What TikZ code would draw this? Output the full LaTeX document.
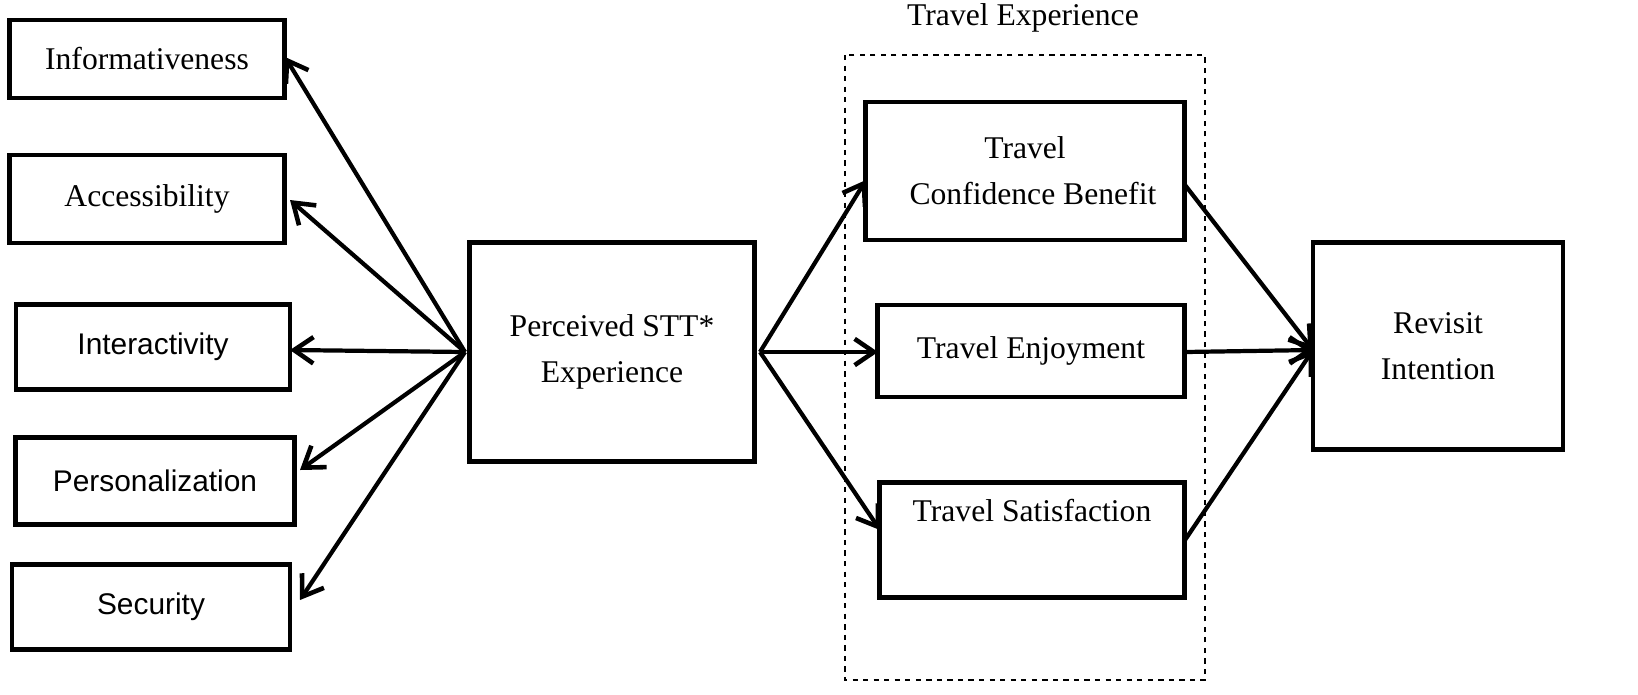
\documentclass[tikz,border=0pt]{standalone}
\usepackage{fontspec}
\setmainfont{Liberation Serif}
\newfontfamily\sansf{Liberation Sans}
\usetikzlibrary{arrows.meta}
\begin{document}
\begin{tikzpicture}[x=0.02cm,y=-0.02cm,
  box/.style={draw,line width=2.4pt,inner sep=0pt,align=center,font=\fontsize{18}{26}\selectfont},
  sbox/.style={box,font=\sansf\fontsize{17}{24}\selectfont},
  arr/.style={line width=2.4pt,-{Straight Barb[length=11pt,width=15pt,line width=2.6pt]}}]
\useasboundingbox (0,0) rectangle (1638,694);
\node[box,minimum width=5.5cm,minimum height=1.56cm] (inf) at (147,59) {Informativeness};
\node[box,minimum width=5.5cm,minimum height=1.76cm] (acc) at (147,199) {Accessibility};
\node[sbox,minimum width=5.48cm,minimum height=1.7cm] (int) at (153,347) {Interactivity};
\node[sbox,minimum width=5.58cm,minimum height=1.74cm] (per) at (155,481) {Personalization};
\node[sbox,minimum width=5.56cm,minimum height=1.7cm] (sec) at (151,607) {Security};
\node[box,minimum width=5.7cm,minimum height=4.38cm] (stt) at (612,352) {Perceived STT*\\Experience};
\node[box,minimum width=6.38cm,minimum height=2.76cm] (tcb) at (1025,171) {Travel\\\ \ Confidence Benefit};
\node[box,minimum width=6.14cm,minimum height=1.84cm] (te) at (1031,351) {Travel Enjoyment};
\node[box,minimum width=6.1cm,minimum height=2.3cm] (ts) at (1032,540) {Travel Satisfaction\\[8pt]\ };
\node[box,minimum width=5cm,minimum height=4.14cm] (rev) at (1438,346) {Revisit\\Intention};
\draw[dashed,line width=1.6pt] (845,55) rectangle (1205,680);
\node[font=\fontsize{18}{22}\selectfont] (tex) at (1023,18) {Travel Experience};
\coordinate (L) at (465,352);
\coordinate (R) at (760,352);
\draw[arr] (L) -- (285,57);
\draw[arr] (L) -- (290,200);
\draw[arr] (L) -- (290,350);
\draw[arr] (L) -- (300,470);
\draw[arr] (L) -- (300,600);
\draw[arr] (R) -- (866,180);
\draw[arr] (R) -- (878,352);
\draw[arr] (R) -- (880,530);
\draw[arr] (1185,185) -- (1313,350);
\draw[arr] (1185,352) -- (1313,350);
\draw[arr] (1185,540) -- (1313,350);
\end{tikzpicture}
\end{document}
